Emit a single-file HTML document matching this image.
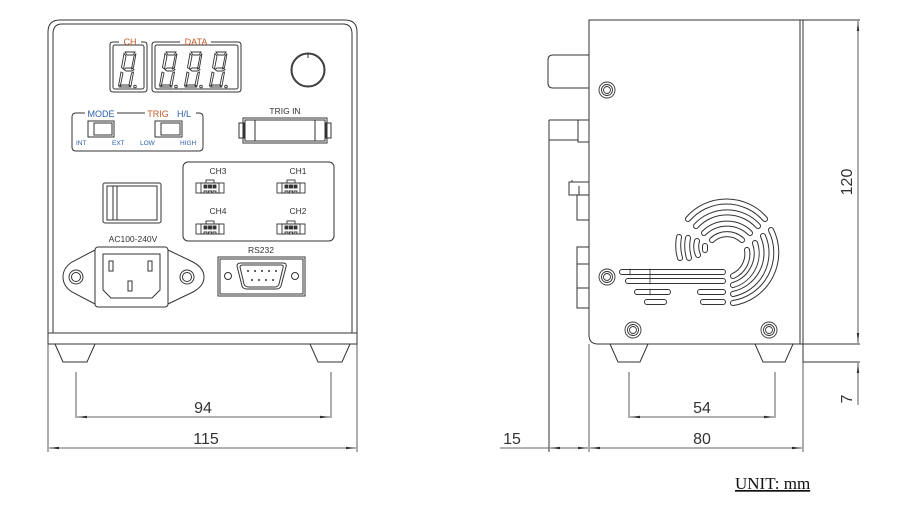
<!DOCTYPE html>
<html><head><meta charset="utf-8"><style>
html,body{margin:0;padding:0;background:#fff;}
svg{display:block;}
text{font-family:"Liberation Sans",sans-serif;}
</style></head><body>
<svg width="911" height="508" viewBox="0 0 911 508" xmlns="http://www.w3.org/2000/svg">
<defs>
<marker id="ar" viewBox="0 0 10 6" refX="10" refY="3" markerWidth="10" markerHeight="6" orient="auto-start-reverse" markerUnits="userSpaceOnUse"><path d="M0,1.8 L10,3 L0,4.2 z" fill="#333"/></marker>
<g id="dig" fill="none" stroke="#333" stroke-width="0.9">
<path d="M4,0 h10 l-2,3 h-6 z M3,1.5 l-2.5,14 l2,1.5 l2.5,-13 z M15,1.5 l-2.5,14 l-2,1.5 l2.5,-13 z M3,17.5 l2,-1.5 h6 l2,1.5 l-2,1.5 h-6 z M0,20 l-2.5,14 l2,-1 l2.5,-12 z M12.5,20 l-2.5,14 l-2,-1 l2.5,-12 z M-1.5,35 h11 l-2,-2 h-7 z"/>
<circle cx="14" cy="34.5" r="1.3"/>
</g>
<g id="con" fill="none" stroke="#333" stroke-width="0.9">
<rect x="0" y="3" width="28" height="10"/><rect x="5" y="3" width="18" height="10"/>
<rect x="10" y="0" width="8" height="3"/>
<rect x="8" y="5" width="3" height="3" fill="#333"/><rect x="12.5" y="5" width="3" height="3" fill="#333"/><rect x="17" y="5" width="3" height="3" fill="#333"/>
<path d="M8,13 v-2 h3 v2 M12.5,13 v-2 h3 v2 M17,13 v-2 h3 v2"/>
</g>
<g id="scr" fill="none" stroke="#333" stroke-width="0.9"><circle r="8"/><circle r="5.5"/><circle r="3.5"/></g>
</defs>

<g fill="none" stroke="#333" stroke-width="1">
<path d="M48,344 V32 Q48,20 60,20 H345 Q357,20 357,32 V344 Z"/>
<path d="M53,333 V34 Q53,24 62,24 H343 Q352,24 352,34 V333"/>
<line x1="48" y1="333" x2="357" y2="333"/>
<path d="M55,344 L63,362 H87 L95,344"/>
<path d="M310,344 L318,362 H342 L350,344"/>
<path d="M119,42 H113 Q110,42 110,45 V89 Q110,92 113,92 H144 Q147,92 147,89 V45 Q147,42 144,42 H141"/>
<rect x="113" y="45" width="31" height="44" rx="2"/>
<path d="M180,42 H155 Q152,42 152,45 V89 Q152,92 155,92 H238 Q241,92 241,89 V45 Q241,42 238,42 H211"/>
<rect x="155" y="45" width="83" height="44" rx="2"/>
</g>
<use href="#dig" x="121" y="52"/>
<use href="#dig" x="162" y="52"/><use href="#dig" x="187" y="52"/><use href="#dig" x="212" y="52"/>
<text x="130" y="45" font-size="9" fill="#c05a28" text-anchor="middle">CH</text>
<text x="196" y="45" font-size="9" fill="#c05a28" text-anchor="middle">DATA</text>
<g fill="none" stroke="#333" stroke-width="1">
<circle cx="308" cy="70" r="17"/><circle cx="308" cy="70" r="16"/>
<line x1="308" y1="54" x2="308" y2="58"/>
<path d="M85,113 H76 Q72,113 72,117 V147 Q72,151 76,151 H199 Q203,151 203,147 V117 Q203,113 199,113 H196"/>
<line x1="117" y1="113" x2="145" y2="113"/>
<rect x="88" y="121" width="26" height="16"/><rect x="94" y="123" width="18" height="12"/>
<rect x="155" y="121" width="27" height="16"/><rect x="161" y="123" width="19" height="12"/>
<rect x="239" y="123" width="5" height="15"/><rect x="326" y="123" width="5" height="15"/>
<rect x="243" y="118" width="84" height="25"/><rect x="245" y="120" width="80" height="21"/>
<line x1="255" y1="120" x2="255" y2="141"/><line x1="315" y1="120" x2="315" y2="141"/>
<rect x="183" y="162" width="151" height="79" rx="5"/>
<rect x="103" y="183" width="58" height="40" rx="2"/>
<rect x="107" y="186" width="50" height="34"/><line x1="113" y1="186" x2="113" y2="220"/><line x1="117" y1="186" x2="117" y2="220"/>
<path d="M95,250 L72,262 Q63,268 63,277 Q63,286 72,292 L95,304 M168,250 L193,262 Q204,268 204,277 Q204,286 193,292 L168,304"/>
<rect x="95" y="247" width="73" height="60" rx="3"/>
<path d="M103,254 H160 V290 L152,298 H111 L103,290 Z"/>
<rect x="109" y="261" width="4" height="10"/><rect x="148" y="261" width="4" height="10"/><rect x="128" y="281" width="4" height="10"/>
<circle cx="76" cy="277" r="7"/><circle cx="76" cy="277" r="4.5"/>
<circle cx="187" cy="277" r="7"/><circle cx="187" cy="277" r="4.5"/>
<rect x="218" y="257" width="87" height="39"/><rect x="220" y="259" width="83" height="35"/>
<circle cx="228" cy="276" r="3.5"/><circle cx="295" cy="276" r="3.5"/>
<path d="M237,266 Q237,263 241,263 H283 Q287,263 286,267 L281,286 Q280,289 276,289 H247 Q243,289 242,286 Z"/>
<path d="M240,267 Q240,265 243,265 H281 Q284,265 283,268 L279,284 Q278,287 275,287 H249 Q245,287 244,284 Z"/>
</g>
<g fill="#333"><circle cx="248" cy="271" r="1"/><circle cx="255" cy="271" r="1"/><circle cx="262" cy="271" r="1"/><circle cx="269" cy="271" r="1"/><circle cx="276" cy="271" r="1"/>
<circle cx="252" cy="280" r="1"/><circle cx="259" cy="280" r="1"/><circle cx="266" cy="280" r="1"/><circle cx="273" cy="280" r="1"/></g>
<use href="#con" x="196" y="180"/><use href="#con" x="277" y="180"/>
<use href="#con" x="196" y="221"/><use href="#con" x="277" y="221"/>
<g font-size="8.5" fill="#333" text-anchor="middle">
<text x="218" y="174">CH3</text><text x="298" y="174">CH1</text>
<text x="218" y="214">CH4</text><text x="298" y="214">CH2</text>
<text x="133" y="242">AC100-240V</text><text x="261" y="253">RS232</text>
<text x="285" y="114">TRIG IN</text>
</g>
<g font-size="9" text-anchor="middle">
<text x="101" y="117" fill="#2b5ea8">MODE</text>
<text x="158" y="117" fill="#c05a28">TRIG</text>
<text x="184" y="117" fill="#2b5ea8">H/L</text>
</g>
<g font-size="6.5" fill="#2b5ea8">
<text x="76" y="145">INT</text><text x="112" y="145">EXT</text><text x="140" y="145">LOW</text><text x="180" y="145">HIGH</text>
</g>

<g fill="none" stroke="#333" stroke-width="0.8">
<line x1="76" y1="372" x2="76" y2="418"/><line x1="331" y1="372" x2="331" y2="418"/>
<line x1="77" y1="417" x2="330" y2="417" marker-start="url(#ar)" marker-end="url(#ar)"/>
<line x1="48" y1="344" x2="48" y2="452"/><line x1="357" y1="344" x2="357" y2="452"/>
<line x1="49" y1="448" x2="356" y2="448" marker-start="url(#ar)" marker-end="url(#ar)"/>
</g>
<g font-size="16" fill="#333" text-anchor="middle">
<text x="203" y="413">94</text><text x="206" y="444">115</text>
</g>

<g fill="none" stroke="#333" stroke-width="1">
<path d="M589,20 H800 V344 H598 Q589,344 589,335 Z"/>
<line x1="803" y1="20" x2="803" y2="362"/>
<line x1="800" y1="20" x2="860" y2="20"/>
<line x1="800" y1="344" x2="860" y2="344"/>
<line x1="803" y1="362" x2="860" y2="362"/>
<path d="M589,55 H553 Q548,55 548,60 V83 Q548,88 553,88 H589"/>
<path d="M549,120 H589 M549,140 H578 M578,120 V142 H589 M578,120 H589"/>
<line x1="549" y1="120" x2="549" y2="452"/>
<path d="M589,182 H569 V195 H589 M579,186 V195 M577,195 V220 H589 M572,182 V180"/>
<path d="M589,247 H577 V308 H589 M577,264 H589 M577,288 H589"/>
<path d="M610,344 L618,362 H640 L648,344"/><path d="M755,344 L763,362 H785 L793,344"/>
</g>
<use href="#scr" x="607" y="90"/><use href="#scr" x="607" y="277"/>
<use href="#scr" x="633" y="330"/><use href="#scr" x="769" y="330"/>
<g fill="none" stroke-linecap="round">
<g stroke="#333" stroke-width="6">
<path d="M688,219 A51,51 0 0 1 765,219"/>
<path d="M696,226 A42,42 0 0 1 758,226"/>
<path d="M704,233 A33,33 0 0 1 750,233"/>
<path d="M712,240 A22,22 0 0 1 742,240"/>
<path d="M771,230 A51,51 0 0 1 733,303"/>
<path d="M763,236 A42,42 0 0 1 733,294"/>
<path d="M755,243 A33,33 0 0 1 733,285"/>
<path d="M747,250 A24,24 0 0 1 733,276"/>
<path d="M679,237 Q677,248 680,258"/>
<path d="M688,238 Q686,248 689,258"/>
<path d="M697,241 Q695,248 698,255"/>
<path d="M705,246 L705,250"/>
<path d="M622,272 H723 M628,281 H723 M637,292 H668 M700,292 H723 M647,302 H664 M703,302 H723"/>
</g>
<g stroke="#fff" stroke-width="4">
<path d="M688,219 A51,51 0 0 1 765,219"/>
<path d="M696,226 A42,42 0 0 1 758,226"/>
<path d="M704,233 A33,33 0 0 1 750,233"/>
<path d="M712,240 A22,22 0 0 1 742,240"/>
<path d="M771,230 A51,51 0 0 1 733,303"/>
<path d="M763,236 A42,42 0 0 1 733,294"/>
<path d="M755,243 A33,33 0 0 1 733,285"/>
<path d="M747,250 A24,24 0 0 1 733,276"/>
<path d="M679,237 Q677,248 680,258"/>
<path d="M688,238 Q686,248 689,258"/>
<path d="M697,241 Q695,248 698,255"/>
<path d="M705,246 L705,250"/>
<path d="M622,272 H723 M628,281 H723 M637,292 H668 M700,292 H723 M647,302 H664 M703,302 H723"/>
</g>
<path d="M630,269 V275 M650,269 V284 M650,289 V295" stroke="#333" stroke-width="0.8"/>
</g>
<g fill="none" stroke="#333" stroke-width="0.8">
<line x1="858" y1="21" x2="858" y2="343" marker-start="url(#ar)" marker-end="url(#ar)"/>
<line x1="858" y1="405" x2="858" y2="363" marker-end="url(#ar)"/>
<line x1="629" y1="372" x2="629" y2="418"/><line x1="775" y1="372" x2="775" y2="418"/>
<line x1="630" y1="417" x2="774" y2="417" marker-start="url(#ar)" marker-end="url(#ar)"/>
<line x1="589" y1="344" x2="589" y2="452"/><line x1="803" y1="362" x2="803" y2="452"/>
<line x1="590" y1="448" x2="802" y2="448" marker-start="url(#ar)" marker-end="url(#ar)"/>
<line x1="500" y1="448" x2="549" y2="448"/>
<line x1="550" y1="448" x2="588" y2="448" marker-start="url(#ar)" marker-end="url(#ar)"/>
</g>
<g font-size="16" fill="#333" text-anchor="middle">
<text x="702" y="413">54</text><text x="702" y="444">80</text><text x="512" y="444">15</text>
<text transform="translate(852,182) rotate(-90)">120</text>
<text transform="translate(852,399) rotate(-90)">7</text>
</g>
<text x="735" y="489" font-size="17" fill="#111" text-decoration="underline" style="font-family:'Liberation Serif',serif">UNIT: mm</text>
</svg>
</body></html>
